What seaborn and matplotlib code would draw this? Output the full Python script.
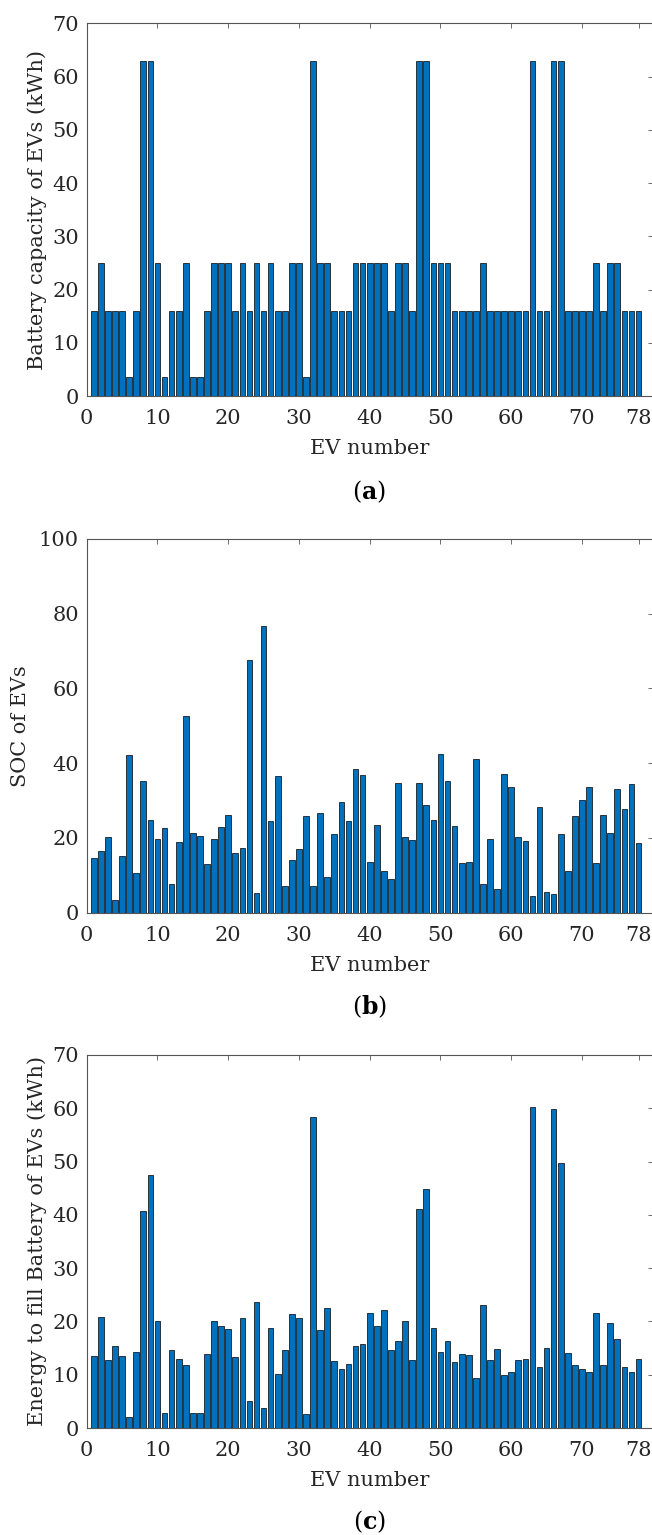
import numpy as np
import pandas as pd
import matplotlib
matplotlib.use("Agg")
import matplotlib.pyplot as plt
import seaborn as sns

# EV index
ev_number = list(range(1, 79))

# Battery capacity of each EV (kWh)
capacity_kwh = [
    16, 25, 16, 16, 16, 3.6, 16, 63, 63, 25,
    3.6, 16, 16, 25, 3.6, 3.6, 16, 25, 25, 25,
    16, 25, 16, 25, 16, 25, 16, 16, 25, 25,
    3.6, 63, 25, 25, 16, 16, 16, 25, 25, 25,
    25, 25, 16, 25, 25, 16, 63, 63, 25, 25,
    25, 16, 16, 16, 16, 25, 16, 16, 16, 16,
    16, 16, 63, 16, 16, 63, 63, 16, 16, 16,
    16, 25, 16, 25, 25, 16, 16, 16,
]

# Initial state of charge of each EV (%)
soc_pct = [
    14.7, 16.5, 20.2, 3.3, 15.2, 42.3, 10.5, 35.2, 24.8, 19.6,
    22.5, 7.7, 19.0, 52.7, 21.3, 20.6, 12.9, 19.6, 23.0, 26.0,
    16.0, 17.3, 67.7, 5.1, 76.6, 24.6, 36.5, 7.2, 14.0, 17.0,
    25.9, 7.2, 26.7, 9.6, 20.9, 29.7, 24.4, 38.4, 36.8, 13.6,
    23.4, 11.2, 9.1, 34.8, 20.1, 19.4, 34.6, 28.7, 24.8, 42.5,
    35.1, 23.2, 13.2, 13.6, 41.1, 7.5, 19.6, 6.2, 37.0, 33.7,
    20.1, 19.2, 4.5, 28.3, 5.4, 4.9, 21.1, 11.2, 25.8, 30.2,
    33.6, 13.3, 26.2, 21.2, 33.0, 27.7, 34.4, 18.5,
]

# Energy required to fill each battery (kWh)
energy_kwh = [
    13.6, 20.9, 12.8, 15.4, 13.6, 2.0, 14.2, 40.8, 47.4, 20.0,
    2.75, 14.7, 12.9, 11.8, 2.75, 2.75, 13.9, 20.0, 19.2, 18.5,
    13.4, 20.6, 5.1, 23.7, 3.75, 18.8, 10.1, 14.7, 21.4, 20.7,
    2.6, 58.3, 18.4, 22.6, 12.6, 11.1, 12.1, 15.4, 15.75, 21.6,
    19.2, 22.1, 14.6, 16.25, 20.0, 12.75, 41.1, 44.9, 18.8, 14.3,
    16.25, 12.3, 13.9, 13.75, 9.4, 23.1, 12.75, 14.9, 9.9, 10.6,
    12.75, 12.9, 60.2, 11.4, 15.1, 59.8, 49.8, 14.1, 11.9, 11.1,
    10.6, 21.6, 11.8, 19.7, 16.7, 11.4, 10.5, 12.9,
]

x_ticks = [0, 10, 20, 30, 40, 50, 60, 70, 78]

panels = [
    ("a", capacity_kwh, "Battery capacity of EVs (kWh)", 70, 10, 4.0),
    ("b", soc_pct, "SOC of EVs", 100, 20, 6.5),
    ("c", energy_kwh, "Energy to fill Battery of EVs (kWh)", 70, 10, 4.0),
]

sns.set_theme(style="white")
plt.rcParams["font.family"] = ["DejaVu Serif"]
plt.rcParams["mathtext.fontset"] = "dejavuserif"

W, H = 652, 1535
fig = plt.figure(figsize=(W / 100, H / 100), dpi=100)

# axes boxes in pixels: (left, top, right, bottom)
boxes = [
    (86.7, 23.3, 652.7, 396.0),
    (86.7, 539.0, 652.7, 912.5),
    (86.7, 1055.0, 652.7, 1428.0),
]
caption_y = [492, 1007, 1522]

bar_color = "#0072BD"
axis_color = "#555555"
text_color = "#262626"

for (tag, values, ylabel, ymax, ystep, ypad), (l, t, r, b), cy in zip(panels, boxes, caption_y):
    ax = fig.add_axes([l / W, 1 - b / H, (r - l) / W, (b - t) / H])
    df = pd.DataFrame({"ev": ev_number, "value": values})
    sns.barplot(data=df, x="ev", y="value", native_scale=True, width=0.8,
                color=bar_color, saturation=1, edgecolor="black",
                linewidth=0.5, errorbar=None, ax=ax)
    ax.set_xlim(0, 80)
    ax.set_ylim(0, ymax)
    ax.set_xticks(x_ticks)
    ax.set_xticklabels([str(v) for v in x_ticks])
    ax.set_yticks(np.arange(0, ymax + 1, ystep))
    ax.tick_params(axis="both", direction="in", length=3.6, width=0.6,
                   colors=axis_color, labelcolor=text_color, labelsize=15,
                   top=True, right=True)
    ax.tick_params(axis="x", pad=9.5)
    ax.tick_params(axis="y", pad=5.5)
    for sp in ax.spines.values():
        sp.set_visible(True)
        sp.set_color(axis_color)
        sp.set_linewidth(0.8)
    ax.set_xlabel("EV number", fontsize=15, color=text_color, labelpad=8)
    ax.set_ylabel(ylabel, fontsize=15, color=text_color, labelpad=ypad)
    fig.text((l + 652) / 2 / W, 1 - cy / H, r"($\mathbf{" + tag + r"}$)",
             ha="center", va="center", fontsize=17, color="black")

fig.savefig("out.png", dpi=100, facecolor="white")
